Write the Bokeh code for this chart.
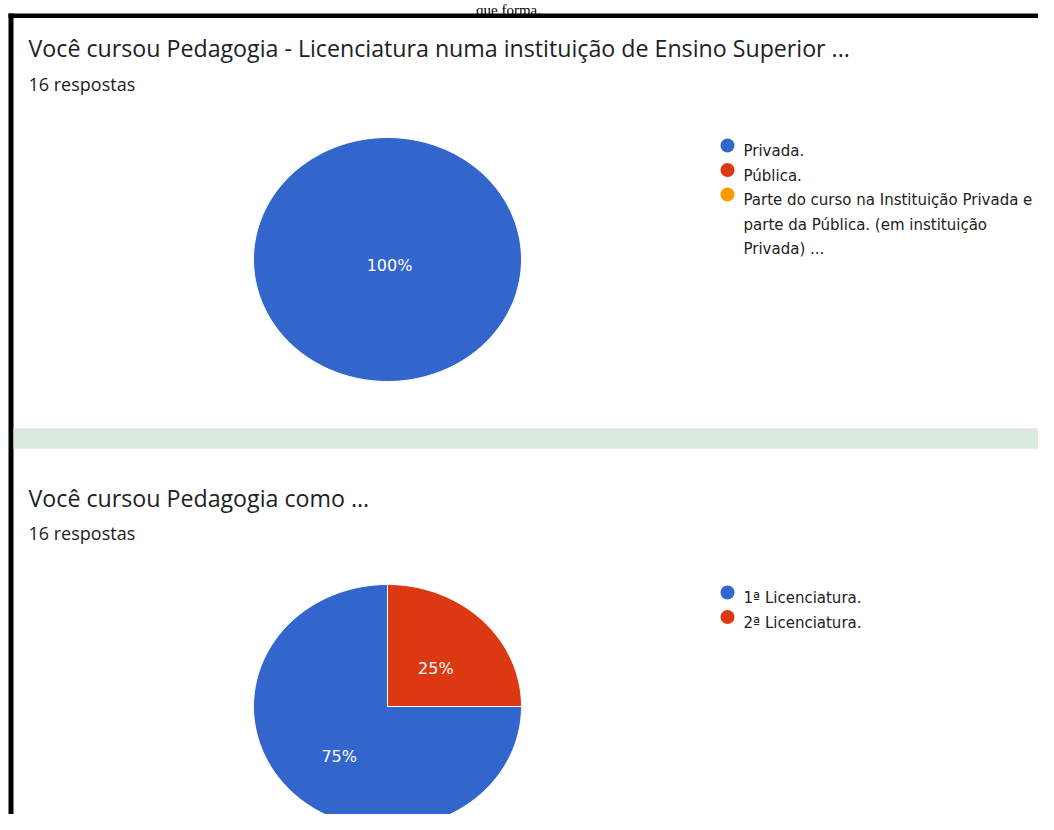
import numpy as np
from bokeh.plotting import figure
from bokeh.models import Range1d, BoxAnnotation
from bokeh.core.properties import value
from bokeh.embed import file_html
from bokeh.resources import INLINE

# ---------------- data ----------------
page_fragment = "que forma."

q1_title = "Você cursou Pedagogia - Licenciatura numa instituição de Ensino Superior ..."
q1_responses = "16 respostas"
q1_labels = [
    ["Privada."],
    ["Pública."],
    ["Parte do curso na Instituição Privada e", "parte da Pública. (em instituição", "Privada) ..."],
]
q1_counts = [16, 0, 0]

q2_title = "Você cursou Pedagogia como ..."
q2_responses = "16 respostas"
q2_labels = [["1ª Licenciatura."], ["2ª Licenciatura."]]
q2_counts = [12, 4]

palette = ["#3366cc", "#dc3912", "#ff9900"]

# ---------------- figure ----------------
W, H = 1038, 814
p = figure(width=W, height=H, x_range=Range1d(0, W), y_range=Range1d(H, 0),
           output_backend="svg", toolbar_location=None, min_border=0,
           x_axis_location=None, y_axis_location=None)
p.grid.visible = False
p.outline_line_color = None
p.background_fill_color = "white"
p.border_fill_color = "white"

TITLE_FONT = value("Open Sans")
CHART_FONT = value("DejaVu Sans")

# document text above the frame (cropped in the original screenshot)
p.text(x=[508], y=[1], text=[page_fragment], text_font=value("Liberation Serif"),
       text_font_size="15px", text_color="black", text_align="center",
       text_baseline="top")

# frame decorations
p.add_layout(BoxAnnotation(left=8, right=13, top=13, bottom=H, fill_color="black",
                           fill_alpha=1, line_color=None))
p.add_layout(BoxAnnotation(left=8, right=W, top=13, bottom=17.5, fill_color="black",
                           fill_alpha=1, line_color=None))
p.add_layout(BoxAnnotation(left=13, right=W, top=428, bottom=448, fill_color="#d9e9da",
                           fill_alpha=1, line_color=None))
p.add_layout(BoxAnnotation(left=13, right=W, top=428, bottom=429.5, fill_color="#e2e2ea",
                           fill_alpha=1, line_color=None))
p.add_layout(BoxAnnotation(left=13, right=W, top=446.5, bottom=448, fill_color="#e2e2ea",
                           fill_alpha=1, line_color=None))


def header(title, responses, y_title, y_resp):
    p.text(x=[28], y=[y_title], text=[title], text_font=TITLE_FONT, text_font_size="23.2px",
           text_color="#202124", text_baseline="alphabetic", text_align="left")
    p.text(x=[28], y=[y_resp], text=[responses], text_font=TITLE_FONT, text_font_size="18px",
           text_color="#202124", text_baseline="alphabetic", text_align="left")


def pie(counts, cx, cy, rx, ry):
    c = np.asarray(counts, dtype=float)
    frac = c / c.sum()
    start = np.pi / 2 + 2 * np.pi * np.concatenate([[0.0], np.cumsum(frac)[:-1]])
    end = start + 2 * np.pi * frac
    xs, ys, fills, lx, ly, lt = [], [], [], [], [], []
    for s, e, f, col in zip(start, end, frac, palette):
        if f <= 0:
            continue
        t = np.linspace(s, e, max(int(f * 360), 2) + 1)
        px = cx + rx * np.cos(t)
        py = cy - ry * np.sin(t)
        if f < 1:
            px = np.concatenate([[cx], px])
            py = np.concatenate([[cy], py])
            mid = (s + e) / 2
            lx.append(cx + 0.51 * rx * np.cos(mid))
            ly.append(cy - 0.51 * ry * np.sin(mid) + 6)
        else:
            lx.append(cx + 2)
            ly.append(cy + 6)
        lt.append(f"{round(f * 100)}%")
        xs.append(list(px))
        ys.append(list(py))
        fills.append(col)
    p.patches(xs, ys, fill_color=fills, line_color="white", line_width=1)
    p.text(x=lx, y=ly, text=lt, text_font=CHART_FONT, text_font_size="16px",
           text_color="white", text_align="center", text_baseline="alphabetic")


def legend(items, x0, y0, step=24.5):
    cxs, cys, cols, tx, ty, tt = [], [], [], [], [], []
    k = 0
    for i, lines in enumerate(items):
        cxs.append(x0)
        cys.append(y0 + k * step)
        cols.append(palette[i])
        for ln in lines:
            tx.append(x0 + 16)
            ty.append(y0 + k * step + 5.5)
            tt.append(ln)
            k += 1
    p.scatter(cxs, cys, marker="circle", size=14, fill_color=cols, line_color=None)
    p.text(x=tx, y=ty, text=tt, text_font=CHART_FONT, text_font_size="15px",
           text_color="#222222", text_align="left", text_baseline="alphabetic")


header(q1_title, q1_responses, 47, 83)
pie(q1_counts, 387, 259, 134, 122)
legend(q1_labels, 727, 145)

header(q2_title, q2_responses, 497, 532)
pie(q2_counts, 387, 706, 134, 122)
legend(q2_labels, 727, 592)

open("out.html", "w").write(file_html(p, INLINE))
